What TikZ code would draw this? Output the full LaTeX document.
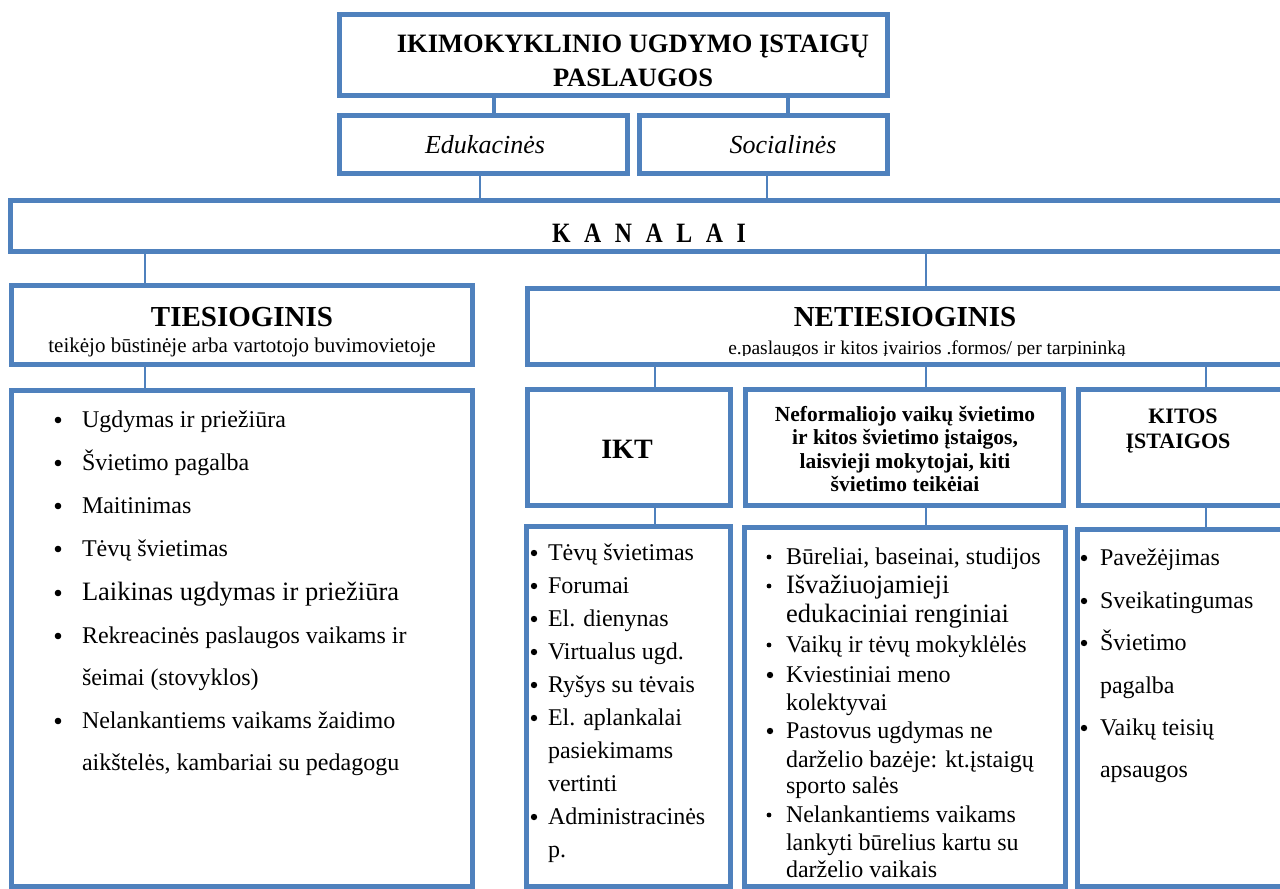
\documentclass[tikz,border=0pt]{standalone}
\usepackage{fontspec}
\setmainfont{Liberation Serif}
\usetikzlibrary{fit}
\definecolor{boxblue}{RGB}{79,129,189}
\newcommand\fsz[1]{\fontsize{#1}{#1}\selectfont}
\begin{document}
\begin{tikzpicture}[x=1pt,y=-1pt,
  box/.style={draw=boxblue, line width=5pt, inner sep=0pt, outer sep=0pt},
  bar/.style={draw=boxblue, line width=4pt},
  link/.style={draw=boxblue, line width=2pt},
  txt/.style={inner sep=0pt, outer sep=0pt, anchor=base, text=black},
  itm/.style={inner sep=0pt, outer sep=0pt, anchor=base west, text=black, font=\fsz{24}},
  bigitm/.style={itm, font=\fsz{26.5}},
  dotc/.style={fill=black}
]
\useasboundingbox (0,0) rectangle (1280,889);
\fill[white] (0,0) rectangle (1280,889);
\clip (0,0) rectangle (1280,889);

% boxes
\node[box, fit={(339.5,14.5) (887.5,95.5)}] (top) {};
\node[box, fit={(339.5,115.5) (627.5,173.5)}] (edu) {};
\node[box, fit={(639.5,115.5) (887.5,173.5)}] (soc) {};
\node[box, fit={(10.5,200.5) (1295,251.5)}] (kan) {};
\node[box, fit={(11.5,285.5) (472.5,364.5)}] (ties) {};
\node[box, fit={(11.5,390.5) (472.5,886.5)}] (tlist) {};
\node[box, fit={(527.5,288.5) (1295,364.5)}] (net) {};
\node[box, fit={(527.5,389.5) (730.5,505.5)}] (ikt) {};
\node[box, fit={(745.5,389.5) (1063.5,505.5)}] (nef) {};
\node[box, fit={(1078.5,389.5) (1295,505.5)}] (kit) {};
\node[box, fit={(526.5,526.5) (730.5,886.5)}] (iktl) {};
\node[box, fit={(744.5,527.5) (1065.5,886.5)}] (nefl) {};
\node[box, fit={(1077.5,529.5) (1295,886.5)}] (kitl) {};

% connectors
\draw[bar] (top.south -| 494,0) -- (edu.north -| 494,0);
\draw[bar] (top.south -| 788,0) -- (soc.north -| 788,0);
\draw[link] (edu.south -| 480,0) -- (kan.north -| 480,0);
\draw[link] (soc.south -| 767,0) -- (kan.north -| 767,0);
\draw[link] (kan.south -| 145,0) -- (ties.north -| 145,0);
\draw[link] (ties.south -| 145,0) -- (tlist.north -| 145,0);
\draw[link] (kan.south -| 926,0) -- (net.north -| 926,0);
\draw[link] (net.south -| 655,0) -- (ikt.north -| 655,0);
\draw[link] (net.south -| 926,0) -- (nef.north -| 926,0);
\draw[link] (net.south -| 1206,0) -- (kit.north -| 1206,0);
\draw[link] (ikt.south -| 655,0) -- (iktl.north -| 655,0);
\draw[link] (nef.south -| 926,0) -- (nefl.north -| 926,0);
\draw[link] (kit.south -| 1206,0) -- (kitl.north -| 1206,0);

% header texts
\node[txt, font=\bfseries\fsz{26.5}] (tt1) at (633,52) {IKIMOKYKLINIO UGDYMO ĮSTAIGŲ};
\node[txt, font=\bfseries\fsz{26.5}] (tt2) at (633,86) {PASLAUGOS};
\node[txt, font=\itshape\fsz{26}] (edut) at (485,153) {Edukacinės};
\node[txt, font=\itshape\fsz{26}] (soct) at (783,153) {Socialinės};
\node[txt, font=\bfseries\fsz{28}] (kant) at (649,242) {\scalebox{0.85}[1]{\spaceskip=16pt K A N A L A I}};
\node[txt, font=\bfseries\fsz{29}] (tiest) at (242,326) {TIESIOGINIS};
\node[txt, font=\fsz{21}] (tiess) at (242,352) {teikėjo būstinėje arba vartotojo buvimovietoje};
\node[txt, font=\bfseries\fsz{29}] (nett) at (905,326) {NETIESIOGINIS};
\begin{scope}
\clip (530,330) rectangle (1280,355);
\node[txt, font=\fsz{19.5}] (nets) at (927,354.5) {e.paslaugos ir kitos įvairios .formos/ per tarpininką};
\end{scope}
\node[txt, font=\bfseries\fsz{28}] (iktt) at (627,458) {IKT};
\node[txt, font=\bfseries\fsz{21.5}] (nef1) at (905,421) {Neformaliojo vaikų švietimo};
\node[txt, font=\bfseries\fsz{21.5}] (nef2) at (905,444.5) {ir kitos švietimo įstaigos,};
\node[txt, font=\bfseries\fsz{21.5}] (nef3) at (905,468) {laisvieji mokytojai, kiti};
\node[txt, font=\bfseries\fsz{21.5}] (nef4) at (905,491.5) {švietimo teikėiai};
\node[txt, font=\bfseries\fsz{22}] (kit1) at (1183,423) {KITOS};
\node[txt, font=\bfseries\fsz{22}] (kit2) at (1178,448) {ĮSTAIGOS};

% Tiesioginis list
\node[itm] (a1) at (82,427) {Ugdymas ir priežiūra};
\node[itm] (a2) at (82,470) {Švietimo pagalba};
\node[itm] (a3) at (82,513) {Maitinimas};
\node[itm] (a4) at (82,556) {Tėvų švietimas};
\node[bigitm] (a5) at (82,600) {Laikinas ugdymas ir priežiūra};
\node[itm] (a6) at (82,643) {Rekreacinės paslaugos vaikams ir};
\node[itm] (a6b) at (82,685) {šeimai (stovyklos)};
\node[itm] (a7) at (82,728) {Nelankantiems vaikams žaidimo};
\node[itm] (a7b) at (82,770) {aikštelės, kambariai su pedagogu};
\foreach \y in {427,470,513,556,600,643,728} \fill[dotc] (58,\y-7) circle (3.3pt);

% IKT list
\node[itm] (b1) at (548,560) {Tėvų švietimas};
\node[itm] (b2) at (548,593) {Forumai};
\node[itm] (b3) at (548,626) {El. dienynas};
\node[itm] (b4) at (548,659) {Virtualus ugd.};
\node[itm] (b5) at (548,692) {Ryšys su tėvais};
\node[itm] (b6) at (548,725) {El. aplankalai};
\node[itm] (b6b) at (548,758) {pasiekimams};
\node[itm] (b6c) at (548,791) {vertinti};
\node[itm] (b7) at (548,824) {Administracinės};
\node[itm] (b7b) at (548,857) {p.};
\foreach \y in {560,593,626,659,692,725,824} \fill[dotc] (534,\y-7) circle (3.2pt);

% Neformaliojo list
\node[itm] (c1) at (786,564) {Būreliai, baseinai, studijos};
\node[bigitm] (c2) at (786,593) {Išvažiuojamieji};
\node[bigitm] (c2b) at (786,622) {edukaciniai renginiai};
\node[itm] (c3) at (786,652) {Vaikų ir tėvų mokyklėlės};
\node[itm] (c4) at (786,682) {Kviestiniai meno};
\node[itm] (c4b) at (786,710) {kolektyvai};
\node[itm] (c5) at (786,738) {Pastovus ugdymas ne};
\node[itm] (c5b) at (786,767) {darželio bazėje: kt.įstaigų};
\node[itm] (c5c) at (786,793) {sporto salės};
\node[itm] (c6) at (786,822) {Nelankantiems vaikams};
\node[itm] (c6b) at (786,850) {lankyti būrelius kartu su};
\node[itm] (c6c) at (786,877) {darželio vaikais};
\foreach \y in {564,593,652,822} \fill[dotc] (769,\y-7) circle (2.4pt);
\foreach \y in {682,738} \fill[dotc] (770,\y-7) circle (3.2pt);

% Kitos list
\node[itm] (d1) at (1100,565) {Pavežėjimas};
\node[itm] (d2) at (1100,608) {Sveikatingumas};
\node[itm] (d3) at (1100,650) {Švietimo};
\node[itm] (d3b) at (1100,693) {pagalba};
\node[itm] (d4) at (1100,735) {Vaikų teisių};
\node[itm] (d4b) at (1100,777) {apsaugos};
\foreach \y in {565,608,650,735} \fill[dotc] (1084,\y-7) circle (3.2pt);
\end{tikzpicture}
\end{document}
